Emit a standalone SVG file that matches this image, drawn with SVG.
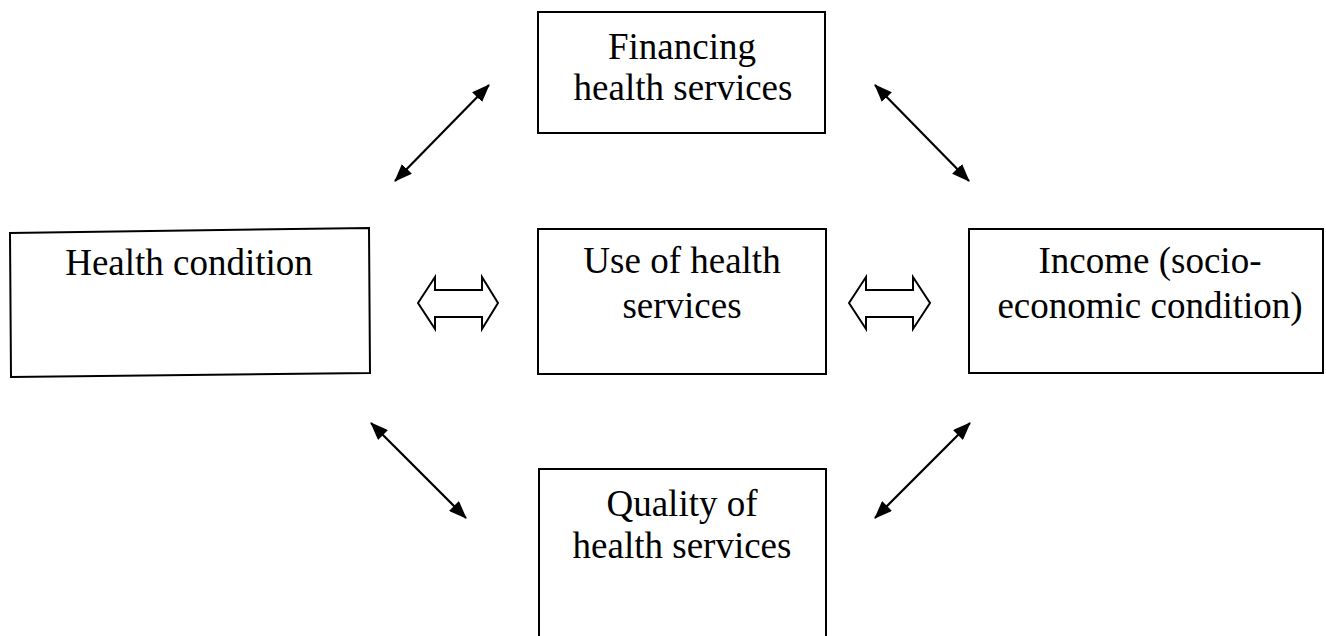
<svg xmlns="http://www.w3.org/2000/svg" width="1326" height="636" viewBox="0 0 1326 636">
  <style>
    .box { fill: #ffffff; stroke: #000000; stroke-width: 2; }
    .lbl { font-family: "Liberation Serif", "Times New Roman", serif; font-size: 37px; fill: #000000; text-anchor: middle; }
    .link { stroke: #000000; stroke-width: 2.2; fill: none; marker-start: url(#head); marker-end: url(#head); }
    .block { fill: #ffffff; stroke: #000000; stroke-width: 2; stroke-linejoin: miter; }
  </style>
  <defs>
    <!-- filled arrowhead used at both ends of each thin connector -->
    <marker id="head" viewBox="0 0 18 14" refX="17" refY="7" markerWidth="18" markerHeight="14" markerUnits="userSpaceOnUse" orient="auto-start-reverse">
      <path d="M0,0 L18,7 L0,14 z" fill="#000000"/>
    </marker>
  </defs>
  <rect width="1326" height="636" fill="#ffffff"/>

  <g id="financing">
    <rect class="box" x="538" y="12" width="287" height="121"/>
    <text class="lbl" x="682" y="59">Financing</text>
    <text class="lbl" x="683" y="100">health services</text>
  </g>

  <g id="health-condition">
    <path class="box" d="M10,233 L369,228 L370,373 L11,377 Z"/>
    <text class="lbl" x="189" y="275">Health condition</text>
  </g>

  <g id="use-of-services">
    <rect class="box" x="538" y="229" width="288" height="145"/>
    <text class="lbl" x="682" y="273">Use of health</text>
    <text class="lbl" x="682" y="318">services</text>
  </g>

  <g id="income">
    <rect class="box" x="969" y="229" width="354" height="144"/>
    <text class="lbl" x="1150" y="273">Income (socio-</text>
    <text class="lbl" x="1150" y="318">economic condition)</text>
  </g>

  <g id="quality">
    <rect class="box" x="539" y="469" width="287" height="200"/>
    <text class="lbl" x="682" y="516">Quality of</text>
    <text class="lbl" x="682" y="558">health services</text>
  </g>

  <g id="connectors">
    <line class="link" x1="395" y1="181" x2="489" y2="85"/>
    <line class="link" x1="875" y1="85" x2="969" y2="181"/>
    <line class="link" x1="371" y1="423" x2="466" y2="518"/>
    <line class="link" x1="970" y1="423" x2="875" y2="518"/>
    <!-- hollow double-headed block arrows between the middle row -->
    <path class="block" d="M418,303 L435,277 L435,290 L482,290 L482,277 L498,303 L482,329 L482,317 L435,317 L435,329 Z"/>
    <path class="block" d="M849,303 L866,277 L866,290 L913,290 L913,277 L930,303 L913,329 L913,317 L866,317 L866,329 Z"/>
  </g>
</svg>
